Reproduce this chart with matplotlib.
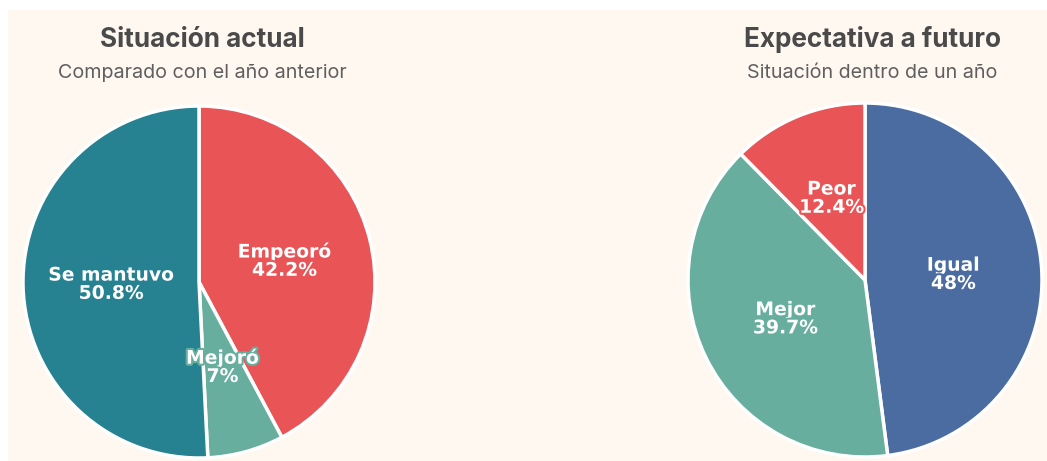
import matplotlib
matplotlib.use("Agg")
import matplotlib.pyplot as plt
import matplotlib.patheffects as pe
from matplotlib.patches import Rectangle

# Data
left_title = "Situación actual"
left_subtitle = "Comparado con el año anterior"
left_labels = ["Empeoró", "Mejoró", "Se mantuvo"]
left_values = [42.2, 7, 50.8]
left_colors = ["#E95557", "#67AE9E", "#268291"]

right_title = "Expectativa a futuro"
right_subtitle = "Situación dentro de un año"
right_labels = ["Igual", "Mejor", "Peor"]
right_values = [48, 39.7, 12.4]
right_colors = ["#4A6CA0", "#67AE9E", "#E95557"]

W, H = 1047, 461
BG = "#FEF8F0"
fig = plt.figure(figsize=(W / 100, H / 100), dpi=100)
fig.patch.set_facecolor("white")
ax = fig.add_axes([0, 0, 1, 1])
ax.set_xlim(0, W)
ax.set_ylim(0, H)
ax.set_aspect("equal")
ax.axis("off")
ax.add_patch(Rectangle((8, 0), W - 8, H - 10, facecolor=BG, edgecolor="none", zorder=0))

title_font = ["Inter", "DejaVu Sans"]
label_font = ["DejaVu Sans"]


def fmt(v):
    s = f"{v:.1f}"
    if s.endswith(".0"):
        s = s[:-2]
    return s + "%"


def draw(labels, values, colors, cx, cy, r, title, subtitle, tx):
    texts_lbl = [f"{l}\n{fmt(v)}" for l, v in zip(labels, values)]
    wedges, texts = ax.pie(values, colors=colors, startangle=90, counterclock=False,
                           center=(cx, cy), radius=r, labels=texts_lbl, labeldistance=0.5,
                           wedgeprops=dict(edgecolor="white", linewidth=2.5),
                           textprops=dict(color="white", fontsize=13.5, fontweight="bold",
                                          family=label_font, linespacing=0.95),
                           frame=True)
    for t, c in zip(texts, colors):
        t.set_ha("center")
        t.set_va("center")
        t.set_zorder(5)
        t.set_path_effects([pe.withStroke(linewidth=3, foreground=c)])
    ax.text(tx, H - 40, title, ha="center", va="center", fontsize=18.8, fontweight="bold",
            color="#4A4A4A", family=title_font)
    ax.text(tx, H - 73, subtitle, ha="center", va="center", fontsize=14.2,
            color="#5F5F5F", family=title_font)


draw(left_labels, left_values, left_colors, 199, H - 282, 176, left_title, left_subtitle, 202)
draw(right_labels, right_values, right_colors, 865, H - 280, 177, right_title, right_subtitle, 872)

ax.set_xlim(0, W)
ax.set_ylim(0, H)
ax.axis("off")
fig.savefig("out.png", dpi=100, facecolor=fig.get_facecolor())
